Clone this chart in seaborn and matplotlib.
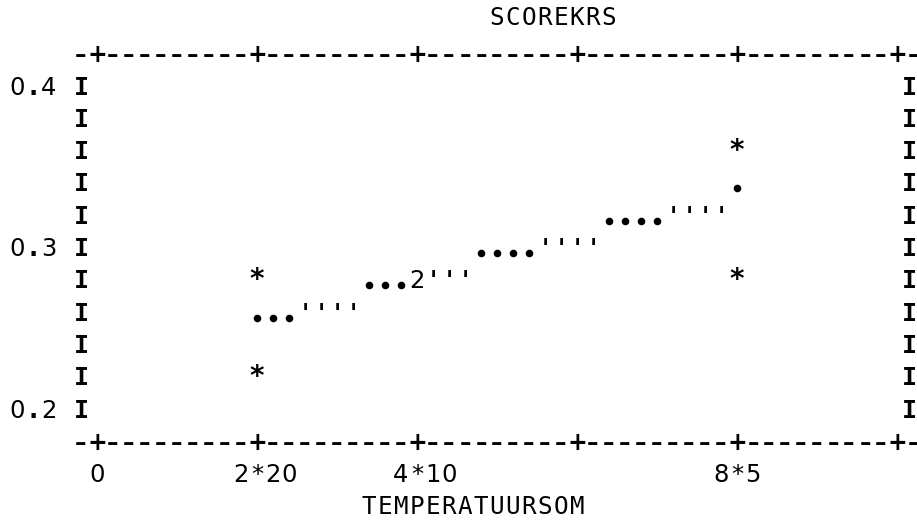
import matplotlib
matplotlib.use("Agg")
import matplotlib.pyplot as plt
from matplotlib.transforms import ScaledTranslation
import pandas as pd
import seaborn as sns

# ---- axis annotation -------------------------------------------------------
x_ticks = [0, 2, 4, 6, 8, 10]
x_tick_labels = ["0", "2*20", "4*10", "", "8*5", ""]
y_ticks = [0.4, 0.3, 0.2]
y_tick_labels = ["0.4", "0.3", "0.2"]
x_title = "TEMPERATUURSOM"
y_title = "SCOREKRS"

# ---- group means and their bounds -------------------------------------------
mean_x = [2, 8]
mean_y = [0.26, 0.34]
bound_x = [2, 2, 8, 8]
bound_y = [0.28, 0.22, 0.36, 0.28]

# ---- fitted line as printed: '.' low in a cell, "'" high in a cell ----------
line_dot_x = [2.2, 2.4, 3.4, 3.6, 3.8, 4.8, 5.0, 5.2, 5.4, 6.4, 6.6, 6.8, 7.0]
line_dot_y = [0.26, 0.26, 0.28, 0.28, 0.28, 0.30, 0.30, 0.30, 0.30,
              0.32, 0.32, 0.32, 0.32]
line_quote_x = [2.6, 2.8, 3.0, 3.2, 4.2, 4.4, 4.6, 5.6, 5.8, 6.0, 6.2,
                7.2, 7.4, 7.6, 7.8]
line_quote_y = [0.26, 0.26, 0.26, 0.26, 0.28, 0.28, 0.28, 0.30, 0.30, 0.30,
                0.30, 0.32, 0.32, 0.32, 0.32]
overlap_x = [4]
overlap_y = [0.28]
overlap_n = [2]

# print grid: one column is 0.2 x-units, one line is 0.02 y-units
COL = 0.2
ROW = 0.02

sns.set_theme(style="white")
fig = plt.figure(figsize=(9.17, 5.21), dpi=100)
ax = fig.add_axes([0, 0, 1, 1])

MONO = "DejaVu Sans Mono"
SANS = "DejaVu Sans"


def shifted(dx_px, dy_px):
    return ax.transData + ScaledTranslation(dx_px / 100, dy_px / 100,
                                            fig.dpi_scale_trans)


baseline = shifted(0, -7.5)
edge = shifted(-4, -7.5)   # right margin 'I', pulled in to stay on paper


def put(x, y, s, family=MONO, size=17, weight="normal", transform=None):
    """Type a string one character per print column, starting at x."""
    for i, ch in enumerate(s):
        if ch == " ":
            continue
        ax.text(x + i * COL, y, ch, ha="center", va="baseline",
                transform=transform or baseline, fontfamily=family,
                fontsize=size, fontweight="bold" if ch == "." else weight,
                color="black", clip_on=False)


# frame: dashed rules with '+' at each x tick, 'I' at each y line
top = y_ticks[0] + ROW
bottom = y_ticks[-1] - ROW
n_cols = int(round(x_ticks[-1] / COL))
step = int(round((x_ticks[1] - x_ticks[0]) / COL))
for c in range(-1, n_cols + 2):
    for yy in (top, bottom):
        if c % step == 0 and 0 <= c <= n_cols:
            put(c * COL, yy, "+", family=SANS, size=17, weight="bold")
        else:
            put(c * COL, yy, "\u2013", family=SANS, size=16.5, weight="bold")
n_rows = int(round((y_ticks[0] - y_ticks[-1]) / ROW))
for r in range(n_rows + 1):
    y = y_ticks[0] - r * ROW
    put(-COL, y, "I", size=18, weight="bold")
    put(x_ticks[-1] + COL, y, "I", size=18, weight="bold", transform=edge)

# tick labels
for v, lab in zip(y_ticks, y_tick_labels):
    put(-(len(lab) + 2) * COL, v, lab, family=SANS, size=17.5)
for t, lab in zip(x_ticks, x_tick_labels):
    start = t - ((len(lab) - 1) // 2) * COL
    put(start, bottom - ROW, lab, family=SANS, size=17.5)

# titles
put(25 * COL, top + ROW + 0.003, y_title, size=17.5)
put(17 * COL, bottom - 2 * ROW, x_title, size=17.5)

# bounds
for x, y in zip(bound_x, bound_y):
    put(x, y, "*", family=SANS, size=20, weight="bold")

# overlapping points
for x, y, n in zip(overlap_x, overlap_y, overlap_n):
    put(x, y, str(n), family=SANS, size=17.5)

# upper-half line marks
for x, y in zip(line_quote_x, line_quote_y):
    put(x, y, "'", family=SANS, size=17, weight="bold")

# means and lower-half line marks as round dots on the baseline
dots = pd.DataFrame({
    "x": list(mean_x) + list(line_dot_x),
    "y": list(mean_y) + list(line_dot_y),
})
sns.scatterplot(data=dots, x="x", y="y", color="black", s=30, marker="o",
                linewidth=0, ax=ax, legend=False)
ax.collections[-1].set_offset_transform(shifted(0, -4.5))

ax.set_xlim(-1.2125, 10.25)
ax.set_ylim(0.13127, 0.45387)
ax.axis("off")

fig.savefig("out.png", dpi=100, facecolor="white")
